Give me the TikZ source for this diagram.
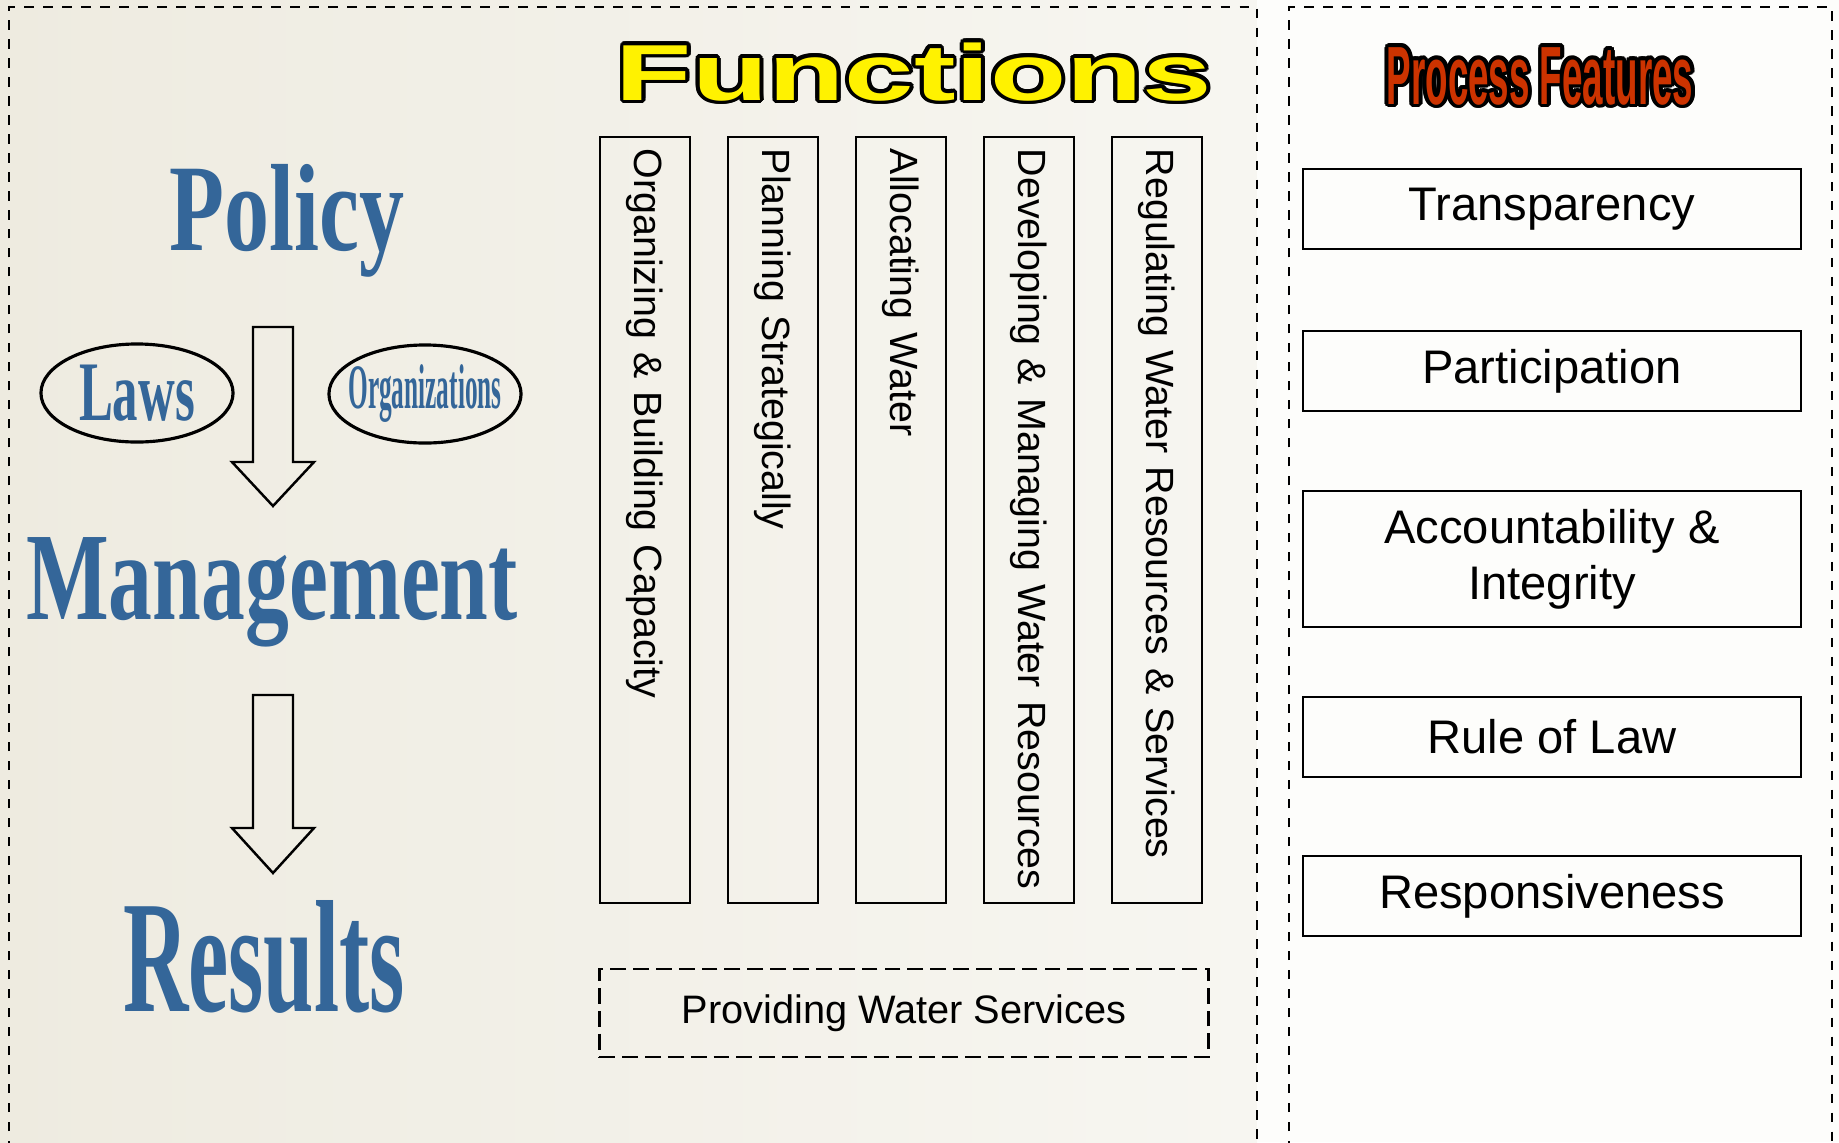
\documentclass[tikz,border=0pt]{standalone}
\usepackage{fontspec}
\setmainfont{Liberation Serif}
\setsansfont{Liberation Sans}
\usepackage{graphicx}
\usepackage{contour}
\contourlength{1.1pt}
\usetikzlibrary{shapes.geometric}
\definecolor{polblue}{RGB}{52,102,153}
\definecolor{featred}{RGB}{204,51,0}
\definecolor{beigeL}{RGB}{238,235,224}
\definecolor{beigeR}{RGB}{247,246,241}
\definecolor{paper}{RGB}{253,253,251}

\begin{document}
\begin{tikzpicture}[x=0.01cm, y=-0.01cm, line width=0.7pt,
	frame/.style = {draw, dash pattern=on 2.7pt off 2.7pt},
	func/.style = {draw, rotate=-90, minimum height=0.9cm, text width=7.42cm, align=left, inner xsep=0.12cm, font=\sffamily\fontsize{11.2}{13}\selectfont},
	feat/.style = {draw, minimum width=4.98cm, minimum height=0.8cm, align=center, font=\sffamily\fontsize{13.4}{16}\selectfont},
	word/.style = {anchor=base, text=polblue, inner sep=0pt},
	oval/.style = {ellipse, draw, line width=0.9pt, minimum width=1.92cm, minimum height=0.98cm, inner sep=0pt, text=polblue}]
	\useasboundingbox (0,0) rectangle (1839,1142);
	% panels
	\shade[left color=beigeL, right color=beigeR] (0,0) rectangle (1257,1142);
	\fill[paper] (1257,0) rectangle (1839,1142);
	\draw[frame] (9,1150) -- (9,7) -- (1257,7) -- (1257,1150);
	\draw[frame] (1289,1150) -- (1289,7) -- (1832,7) -- (1832,1150);

	% left side
	\node (PO) at (287, 250)	[word, font=\bfseries\fontsize{35.3}{40}\selectfont]	{\scalebox{0.725}[1]{Policy}};
	\node (MA) at (272, 619)	[word, font=\bfseries\fontsize{35.6}{40}\selectfont]	{\scalebox{0.70}[1]{Management}};
	\node (RE) at (264, 1011)	[word, font=\bfseries\fontsize{45.5}{50}\selectfont]	{\scalebox{0.566}[1]{Results}};
	\node (LW) at (137, 393)	[oval, font=\bfseries\fontsize{24.1}{28}\selectfont]	{\makebox[0pt]{\scalebox{0.60}[1]{Laws}}};
	\node (OR) at (425, 394)	[oval, font=\bfseries\fontsize{18}{22}\selectfont]	{\makebox[0pt]{\scalebox{0.40}[1]{Organizations}}};
	\draw (253,327) -- (293,327) -- (293,462) -- (314,462) -- (273,506) -- (232,462) -- (253,462) -- cycle;
	\draw (253,695) -- (293,695) -- (293,828) -- (314,828) -- (273,873) -- (232,828) -- (253,828) -- cycle;

	% functions
	\node (FT) at (914, 100)	[anchor=base, inner sep=0pt, text=yellow, font=\sffamily\bfseries\fontsize{22.6}{26}\selectfont]	{\contour{black}{\scalebox{1.57}[1]{Functions}}};
	\node (F1) at (645, 520)	[func]	{\mbox{Organizing \& Building Capacity}};
	\node (F2) at (773, 520)	[func]	{\mbox{Planning Strategically}};
	\node (F3) at (901, 520)	[func]	{\mbox{Allocating Water}};
	\node (F4) at (1029, 520)	[func]	{\mbox{Developing \& Managing Water Resources}};
	\node (F5) at (1157, 520)	[func]	{\mbox{Regulating Water Resources \& Services}};
	\node (S1) at (904, 1013)	[draw, dash pattern=on 4.5pt off 2pt, minimum width=6.09cm, minimum height=0.88cm, font=\sffamily\fontsize{11.3}{13}\selectfont]	{Providing Water Services};

	% process features
	\node (PT) at (1540, 104)	[anchor=base, inner sep=0pt, text=featred, font=\sffamily\bfseries\fontsize{23.5}{27}\selectfont]	{\contour{black}{\scalebox{0.445}[1]{Process Features}}};
	\node (T1) at (1552, 209)	[feat]	{Transparency};
	\node (T2) at (1552, 371)	[feat]	{Participation};
	\node (T3) at (1552, 559)	[feat, minimum height=1.36cm]	{Accountability \&\\Integrity};
	\node (T4) at (1552, 737)	[feat]	{Rule of Law};
	\node (T5) at (1552, 896)	[feat]	{Responsiveness};
\end{tikzpicture}
\end{document}
